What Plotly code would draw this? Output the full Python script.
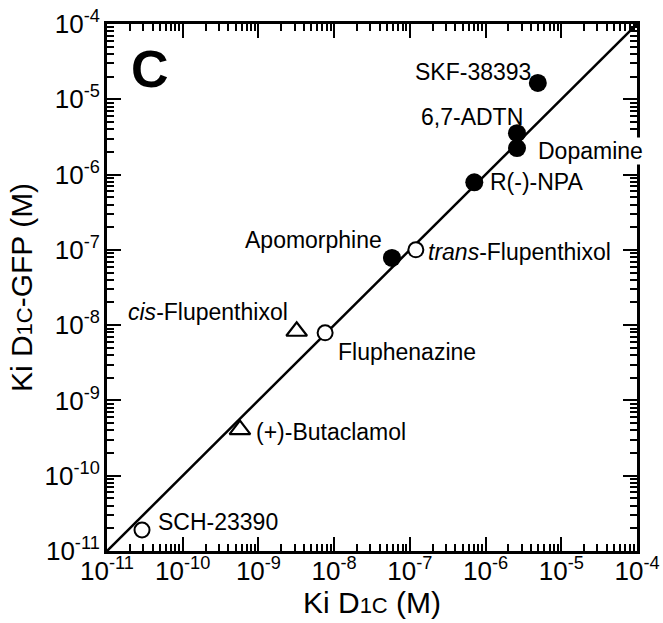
import math
import plotly.graph_objects as go

# ---- data ----
compounds = ["SKF-38393", "6,7-ADTN", "Dopamine", "R(-)-NPA", "Apomorphine",
             "<i>trans</i>-Flupenthixol", "<i>cis</i>-Flupenthixol", "Fluphenazine",
             "(+)-Butaclamol", "SCH-23390"]
ki_d1c = [4.9e-6, 2.6e-6, 2.6e-6, 7.1e-7, 5.8e-8, 1.2e-7, 3.2e-9, 7.6e-9, 5.7e-10, 2.9e-11]
ki_d1c_gfp = [1.65e-5, 3.55e-6, 2.25e-6, 7.9e-7, 7.8e-8, 1.0e-7, 8.3e-9, 7.9e-9, 4.1e-10, 1.9e-11]
marker_kind = ["filled", "filled", "filled", "filled", "filled",
               "open", "triangle", "open", "triangle", "open"]
diag = [1e-11, 1e-4]
tick_vals = [1e-11, 1e-10, 1e-9, 1e-8, 1e-7, 1e-6, 1e-5, 1e-4]
tick_text = ["10<sup>-11</sup>", "10<sup>-10</sup>", "10<sup>-9</sup>", "10<sup>-8</sup>",
             "10<sup>-7</sup>", "10<sup>-6</sup>", "10<sup>-5</sup>", "10<sup>-4</sup>"]

# label placement (style): xanchor, xshift, yshift
label_style = [("right", -6, 11), ("right", 7, 16), ("left", 20, -3), ("left", 15, 0),
               ("right", -9, 18), ("left", 11, -2), ("right", -8, 19), ("left", 12, -19),
               ("left", 15, -2), ("left", 15, 8)]

FONT = "Liberation Sans, Arial, Helvetica, sans-serif"

minor_vals = [m * 10.0 ** e for e in range(-11, -4) for m in range(2, 10)]

fig = go.Figure()
fig.add_trace(go.Scatter(x=diag, y=diag, mode="lines",
                         line=dict(color="black", width=2.5), showlegend=False,
                         hoverinfo="skip"))

marker_styles = {
    "filled": dict(symbol="circle", size=18, color="black", line=dict(color="black", width=0)),
    "open": dict(symbol="circle", size=15, color="white", line=dict(color="black", width=2)),
    "triangle": dict(symbol="triangle-up-open", size=18, color="black", line=dict(color="black", width=2.2)),
}
for kind in ["filled", "open", "triangle"]:
    xs = [x for x, k in zip(ki_d1c, marker_kind) if k == kind]
    ys = [y for y, k in zip(ki_d1c_gfp, marker_kind) if k == kind]
    fig.add_trace(go.Scatter(x=xs, y=ys, mode="markers", marker=marker_styles[kind],
                             showlegend=False, cliponaxis=False))

for name, x, y, (xa, xs_, ys_) in zip(compounds, ki_d1c, ki_d1c_gfp, label_style):
    kw = dict(bgcolor="white") if name == "Dopamine" else {}
    fig.add_annotation(x=math.log10(x), y=math.log10(y), xref="x", yref="y",
                       text=name, showarrow=False,
                       xanchor=xa, yanchor="middle", xshift=xs_, yshift=ys_,
                       font=dict(family=FONT, size=23, color="black"),
                       borderpad=0, **kw)

fig.add_annotation(x=0.082, y=0.915, xref="paper", yref="paper", text="<b>C</b>",
                   showarrow=False, xanchor="center", yanchor="middle",
                   font=dict(family=FONT, size=52, color="black"))

axis_common = dict(
    type="log", range=[-11, -4],
    tickvals=tick_vals, ticktext=tick_text,
    ticks="inside", ticklen=14, tickwidth=2, tickcolor="black",
    showline=True, linewidth=3, linecolor="black", mirror="allticks",
    showgrid=False, zeroline=False,
    tickfont=dict(family=FONT, size=26, color="black"),
    minor=dict(tickvals=minor_vals, ticks="inside", ticklen=7, tickwidth=1.5,
               tickcolor="black", showgrid=False),
)

fig.update_xaxes(**axis_common, ticklabelstandoff=-5,
                 title=dict(text='Ki D<span style="font-size:22px">1C</span> (M)',
                            font=dict(family=FONT, size=30, color="black"), standoff=2))
fig.update_yaxes(**axis_common, ticklabelstandoff=-1,
                 title=dict(text='Ki D<span style="font-size:22px">1C</span>-GFP (M)',
                            font=dict(family=FONT, size=30, color="black"), standoff=4))

fig.update_layout(width=663, height=623,
                  margin=dict(l=107, r=26, t=24, b=72, autoexpand=False),
                  paper_bgcolor="white", plot_bgcolor="white",
                  font=dict(family=FONT, color="black"))

fig.write_html("out.html", config={"displayModeBar": False},
               post_script="document.body.style.margin='0';document.body.style.overflow='hidden';")
